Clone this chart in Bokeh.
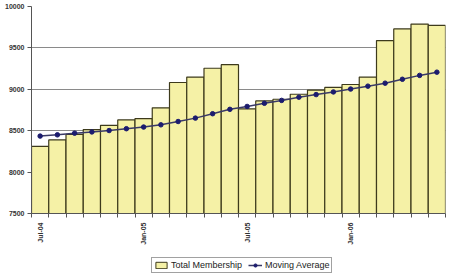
from bokeh.plotting import figure
from bokeh.layouts import column
from bokeh.models import ColumnDataSource, FixedTicker, Legend, LegendItem, Range1d
from bokeh.embed import file_html
from bokeh.resources import INLINE

months = ["Jul-04", "Aug-04", "Sep-04", "Oct-04", "Nov-04", "Dec-04",
          "Jan-05", "Feb-05", "Mar-05", "Apr-05", "May-05", "Jun-05",
          "Jul-05", "Aug-05", "Sep-05", "Oct-05", "Nov-05", "Dec-05",
          "Jan-06", "Feb-06", "Mar-06", "Apr-06", "May-06", "Jun-06"]
membership = [8310, 8388, 8455, 8514, 8565, 8630, 8646, 8776, 9082, 9148, 9254, 9297,
              8764, 8860, 8880, 8940, 8991, 9023, 9058, 9148, 9588, 9729, 9788, 9772]
moving_avg = [8435, 8450, 8470, 8485, 8502, 8524, 8544, 8571, 8611, 8652, 8705, 8758,
              8793, 8831, 8866, 8905, 8936, 8968, 9003, 9038, 9074, 9121, 9168, 9207]
y_ticks = [7500, 8000, 8500, 9000, 9500, 10000]

BAR_FILL = "#f5f1a6"
BAR_LINE = "#3d3a1c"
MA_LINE = "#3a3a66"
MA_PT = "#1c1c6e"

xs = list(range(len(months)))
src = ColumnDataSource(dict(x=xs, m=membership, ma=moving_avg, month=months))

W = 446
p = figure(width=W, height=247, output_backend="svg", toolbar_location=None,
           x_range=Range1d(-0.5, len(months) - 0.5), y_range=Range1d(7500, 10000),
           min_border_left=31, min_border_top=6, min_border_right=1, min_border_bottom=28)
p.background_fill_color = "white"
p.outline_line_color = None

p.vbar(x="x", top="m", bottom=7500, width=1.0, source=src,
       fill_color=BAR_FILL, line_color=BAR_LINE, line_width=1.2)
p.line(x="x", y="ma", source=src, line_color=MA_LINE, line_width=1.5)
p.scatter(x="x", y="ma", source=src, size=4.5, fill_color=MA_PT,
          line_color=MA_PT, marker="circle")

# axes
p.yaxis.ticker = FixedTicker(ticks=y_ticks)
p.yaxis.major_label_text_font = "Liberation Sans"
p.yaxis.major_label_text_font_size = "7px"
p.yaxis.major_label_text_font_style = "bold"
p.yaxis.major_label_text_color = "#333333"
p.yaxis.axis_line_color = "#555555"
p.yaxis.major_tick_line_color = "#555555"
p.yaxis.major_tick_out = 4
p.yaxis.major_tick_in = 0
p.yaxis.minor_tick_line_color = None
p.yaxis.major_label_standoff = 3

label_idx = [0, 6, 12, 18]
p.xaxis.ticker = FixedTicker(ticks=label_idx,
                             minor_ticks=[i - 0.5 for i in range(len(months) + 1)])
p.xaxis.major_label_overrides = {i: months[i] for i in label_idx}
p.xaxis.major_label_orientation = 1.5708
p.xaxis.major_label_text_font = "Liberation Sans"
p.xaxis.major_label_text_font_size = "7px"
p.xaxis.major_label_text_font_style = "bold"
p.xaxis.major_label_text_color = "#333333"
p.xaxis.major_tick_out = 0
p.xaxis.major_tick_in = 0
p.xaxis.minor_tick_out = 4
p.xaxis.minor_tick_in = 0
p.xaxis.minor_tick_line_color = "#555555"
p.xaxis.axis_line_color = "#555555"
p.xaxis.major_label_standoff = 5

p.xgrid.grid_line_color = None
p.ygrid.ticker = FixedTicker(ticks=y_ticks)
p.ygrid.grid_line_color = "#8a8a8a"
p.ygrid.grid_line_width = 1.2

# legend in its own strip below the chart (dummy renderers lie outside the view)
lf = figure(width=W, height=26, output_backend="svg", toolbar_location=None,
            x_range=Range1d(0, 1), y_range=Range1d(0, 1),
            x_axis_location=None, y_axis_location=None,
            min_border=0, outline_line_color=None)
lf.grid.visible = False
dummy = ColumnDataSource(dict(x=[-10], y=[-10], t=[-10]))
rb = lf.vbar(x="x", top="t", bottom=-11, width=0.1, source=dummy,
             fill_color=BAR_FILL, line_color=BAR_LINE, line_width=1)
rl = lf.line(x="x", y="y", source=dummy, line_color=MA_LINE, line_width=1.5)
rp = lf.scatter(x="x", y="y", source=dummy, size=4.5, fill_color=MA_PT,
                line_color=MA_PT, marker="circle")

legend = Legend(items=[LegendItem(label="Total Membership", renderers=[rb]),
                       LegendItem(label="Moving Average", renderers=[rl, rp])],
                orientation="horizontal", location=(120, 0))
legend.label_text_font = "Liberation Sans"
legend.label_text_font_size = "9px"
legend.label_text_color = "#222222"
legend.glyph_width = 14
legend.glyph_height = 8
legend.label_standoff = 3
legend.spacing = 6
legend.padding = 2
legend.margin = 0
legend.border_line_color = "#444444"
legend.border_line_width = 1
legend.label_height = 10
lf.add_layout(legend, "center")

open("out.html", "w").write(file_html(column(p, lf), INLINE))
